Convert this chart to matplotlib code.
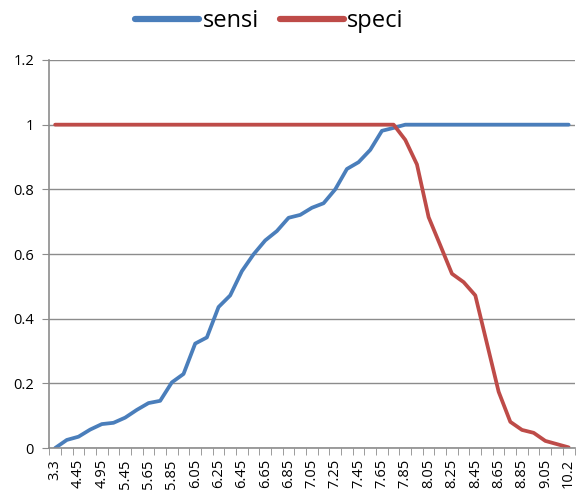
import matplotlib.pyplot as plt
import numpy as np

plt.rcParams['font.family'] = ['Open Sans', 'DejaVu Sans']

# kategoriler (arada gizli etiketler var)
categories = ['3.3', '4.2', '4.45', '4.75', '4.95', '5.2',
              '5.45', '5.55', '5.65', '5.75', '5.85', '5.95', '6.05', '6.15',
              '6.25', '6.35', '6.45', '6.55', '6.65', '6.75', '6.85', '6.95',
              '7.05', '7.15', '7.25', '7.35', '7.45', '7.55', '7.65', '7.75',
              '7.85', '7.95', '8.05', '8.15', '8.25', '8.35', '8.45', '8.55',
              '8.65', '8.75', '8.85', '8.95', '9.05', '9.4', '10.2']

sensi = [0, 0.025, 0.035, 0.057, 0.074, 0.078, 0.094, 0.118, 0.139, 0.146,
         0.203, 0.229, 0.323, 0.342, 0.436, 0.472, 0.547, 0.599, 0.642, 0.671,
         0.712, 0.721, 0.743, 0.757, 0.80, 0.863, 0.884, 0.922, 0.981, 0.99,
         1.0, 1.0, 1.0, 1.0, 1.0, 1.0, 1.0, 1.0, 1.0, 1.0, 1.0, 1.0, 1.0, 1.0, 1.0]

speci = [1.0] * 30 + [0.953, 0.877, 0.714, 0.627, 0.539, 0.513, 0.472, 0.323,
                      0.174, 0.081, 0.056, 0.047, 0.022, 0.012, 0.002]

x = np.arange(len(categories))

fig = plt.figure(figsize=(5.76, 4.95), dpi=100)
ax = fig.add_axes([0.0856, 0.0949, 0.9118, 0.7839])

ax.plot(x, sensi, color='#4A7EBB', lw=2.7, label='sensi', solid_capstyle='round')
ax.plot(x, speci, color='#BE4B48', lw=2.7, label='speci', solid_capstyle='round')

ax.set_xlim(-0.5, len(categories) - 0.5)
ax.set_ylim(0, 1.2)
ax.set_yticks(np.arange(0, 1.21, 0.2))
ax.set_yticklabels(['0', '0.2', '0.4', '0.6', '0.8', '1', '1.2'])
ax.yaxis.grid(True, color='#8C8C8C', lw=1)
ax.set_axisbelow(True)

ax.set_xticks(x[::2])
ax.set_xticklabels(categories[::2], rotation=90)
ax.set_xticks(np.arange(-0.5, len(categories), 1), minor=True)
ax.tick_params(axis='x', which='major', length=0, pad=8, labelsize=10.5)
ax.tick_params(axis='x', which='minor', length=5, color='#8C8C8C')
ax.tick_params(axis='y', length=5, color='#8C8C8C', labelsize=10.5, pad=6)

for s in ['top', 'right']:
    ax.spines[s].set_visible(False)
for s in ['left', 'bottom']:
    ax.spines[s].set_color('#8C8C8C')
    ax.spines[s].set_linewidth(1.2)

leg = fig.legend(loc='upper center', bbox_to_anchor=(0.468, 1.025), ncol=2,
                 frameon=False, fontsize=17, handlelength=2.7, handletextpad=0.15,
                 columnspacing=0.9)
for line in leg.get_lines():
    line.set_linewidth(4.5)

plt.savefig('out.png', dpi=100)
plt.close()
